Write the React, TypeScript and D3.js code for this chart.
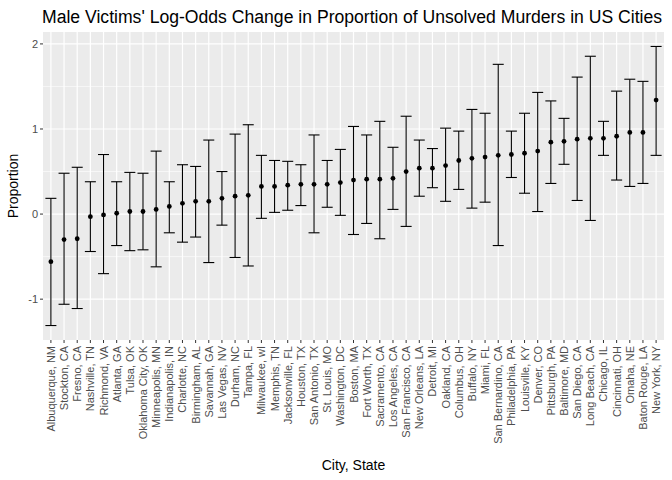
import * as d3 from "d3";

const cities = [
  "Albuquerque, NM", "Stockton, CA", "Fresno, CA", "Nashville, TN", "Richmond, VA",
  "Atlanta, GA", "Tulsa, OK", "Oklahoma City, OK", "Minneapolis, MN", "Indianapolis, IN",
  "Charlotte, NC", "Birmingham, AL", "Savannah, GA", "Las Vegas, NV", "Durham, NC",
  "Tampa, FL", "Milwaukee, wI", "Memphis, TN", "Jacksonville, FL", "Houston, TX",
  "San Antonio, TX", "St. Louis, MO", "Washington, DC", "Boston, MA", "Fort Worth, TX",
  "Sacramento, CA", "Los Angeles, CA", "San Francisco, CA", "New Orleans, LA", "Detroit, MI",
  "Oakland, CA", "Columbus, OH", "Buffalo, NY", "Miami, FL", "San Bernardino, CA",
  "Philadelphia, PA", "Louisville, KY", "Denver, CO", "Pittsburgh, PA", "Baltimore, MD",
  "San Diego, CA", "Long Beach, CA", "Chicago, IL", "Cincinnati, OH", "Omaha, NE",
  "Baton Rouge, LA", "New York, NY",
];

const estimate = [
  -0.56, -0.3, -0.29, -0.03, -0.01, 0.01, 0.03, 0.03, 0.055, 0.09,
  0.126, 0.15, 0.15, 0.185, 0.21, 0.22, 0.325, 0.325, 0.34, 0.35,
  0.35, 0.35, 0.37, 0.4, 0.41, 0.41, 0.42, 0.5, 0.54, 0.54,
  0.57, 0.63, 0.655, 0.67, 0.69, 0.7, 0.715, 0.74, 0.845, 0.855,
  0.88, 0.89, 0.89, 0.915, 0.96, 0.96, 1.34,
];

const lower = [
  -1.31, -1.06, -1.11, -0.44, -0.7, -0.37, -0.43, -0.42, -0.62, -0.22,
  -0.33, -0.27, -0.57, -0.13, -0.51, -0.61, -0.05, 0.02, 0.045, 0.1,
  -0.22, 0.08, -0.015, -0.24, -0.11, -0.29, 0.055, -0.145, 0.21, 0.31,
  0.15, 0.29, 0.07, 0.14, -0.37, 0.43, 0.245, 0.03, 0.36, 0.585,
  0.16, -0.075, 0.69, 0.4, 0.325, 0.36, 0.69,
];

const upper = [
  0.185, 0.48, 0.55, 0.38, 0.7, 0.38, 0.49, 0.48, 0.74, 0.38,
  0.58, 0.56, 0.87, 0.5, 0.94, 1.05, 0.69, 0.63, 0.62, 0.58,
  0.93, 0.63, 0.76, 1.03, 0.93, 1.09, 0.785, 1.15, 0.87, 0.77,
  1.01, 0.975, 1.23, 1.185, 1.76, 0.975, 1.185, 1.43, 1.33, 1.125,
  1.61, 1.855, 1.09, 1.445, 1.585, 1.56, 1.97,
];

const yTicks = [-1, 0, 1, 2];

const W = 672;
const H = 480;
const P = { left: 43, right: 664, top: 32, bottom: 340 };
const FONT = "'Liberation Sans', Arial, sans-serif";

export default function App() {
  const x = d3.scalePoint<string>().domain(cities).range([P.left, P.right]).padding(0.6);
  const y = d3.scaleLinear().domain([-1.48, 2.14]).range([P.bottom, P.top]);
  const minor = yTicks.slice(0, -1).map((t) => t + 0.5);
  const cap = 5.5;

  return (
    <svg width={W} height={H} style={{ position: "absolute", left: 0, top: 0 }} fontFamily={FONT}>
      <rect width={W} height={H} fill="#fff" />
      <rect x={P.left} y={P.top} width={P.right - P.left} height={P.bottom - P.top} fill="#ebebeb" />
      {minor.map((t) => (
        <line key={"m" + t} x1={P.left} x2={P.right} y1={y(t)} y2={y(t)} stroke="#fff" strokeWidth={0.6} />
      ))}
      {yTicks.map((t) => (
        <line key={"g" + t} x1={P.left} x2={P.right} y1={y(t)} y2={y(t)} stroke="#fff" strokeWidth={1.2} />
      ))}
      {cities.map((c) => (
        <line key={"v" + c} x1={x(c)} x2={x(c)} y1={P.top} y2={P.bottom} stroke="#fff" strokeWidth={1.2} />
      ))}
      {cities.map((c, i) => {
        const cx = x(c)!;
        return (
          <g key={c} stroke="#000" strokeWidth={1.1}>
            <line x1={cx} x2={cx} y1={y(lower[i])} y2={y(upper[i])} />
            <line x1={cx - cap} x2={cx + cap} y1={y(lower[i])} y2={y(lower[i])} />
            <line x1={cx - cap} x2={cx + cap} y1={y(upper[i])} y2={y(upper[i])} />
            <circle cx={cx} cy={y(estimate[i])} r={2.4} fill="#000" stroke="none" />
          </g>
        );
      })}
      {yTicks.map((t) => (
        <g key={"t" + t}>
          <line x1={P.left - 3} x2={P.left} y1={y(t)} y2={y(t)} stroke="#333" />
          <text x={P.left - 5} y={y(t)} dy="0.35em" textAnchor="end" fontSize={11} fill="#4d4d4d">
            {t}
          </text>
        </g>
      ))}
      {cities.map((c) => (
        <g key={"x" + c}>
          <line x1={x(c)} x2={x(c)} y1={P.bottom} y2={P.bottom + 3} stroke="#333" />
          <text
            transform={`translate(${x(c)! + 4},${P.bottom + 6}) rotate(-90)`}
            textAnchor="end"
            fontSize={11}
            fill="#4d4d4d"
          >
            {c}
          </text>
        </g>
      ))}
      <text x={(P.left + P.right) / 2} y={470} textAnchor="middle" fontSize={14} fill="#000">
        City, State
      </text>
      <text transform={`translate(18,${(P.top + P.bottom) / 2}) rotate(-90)`} textAnchor="middle" fontSize={14} fill="#000">
        Proportion
      </text>
      <text x={P.left - 1} y={23} fontSize={17.6} fill="#000">
        Male Victims' Log-Odds Change in Proportion of Unsolved Murders in US Cities
      </text>
    </svg>
  );
}
